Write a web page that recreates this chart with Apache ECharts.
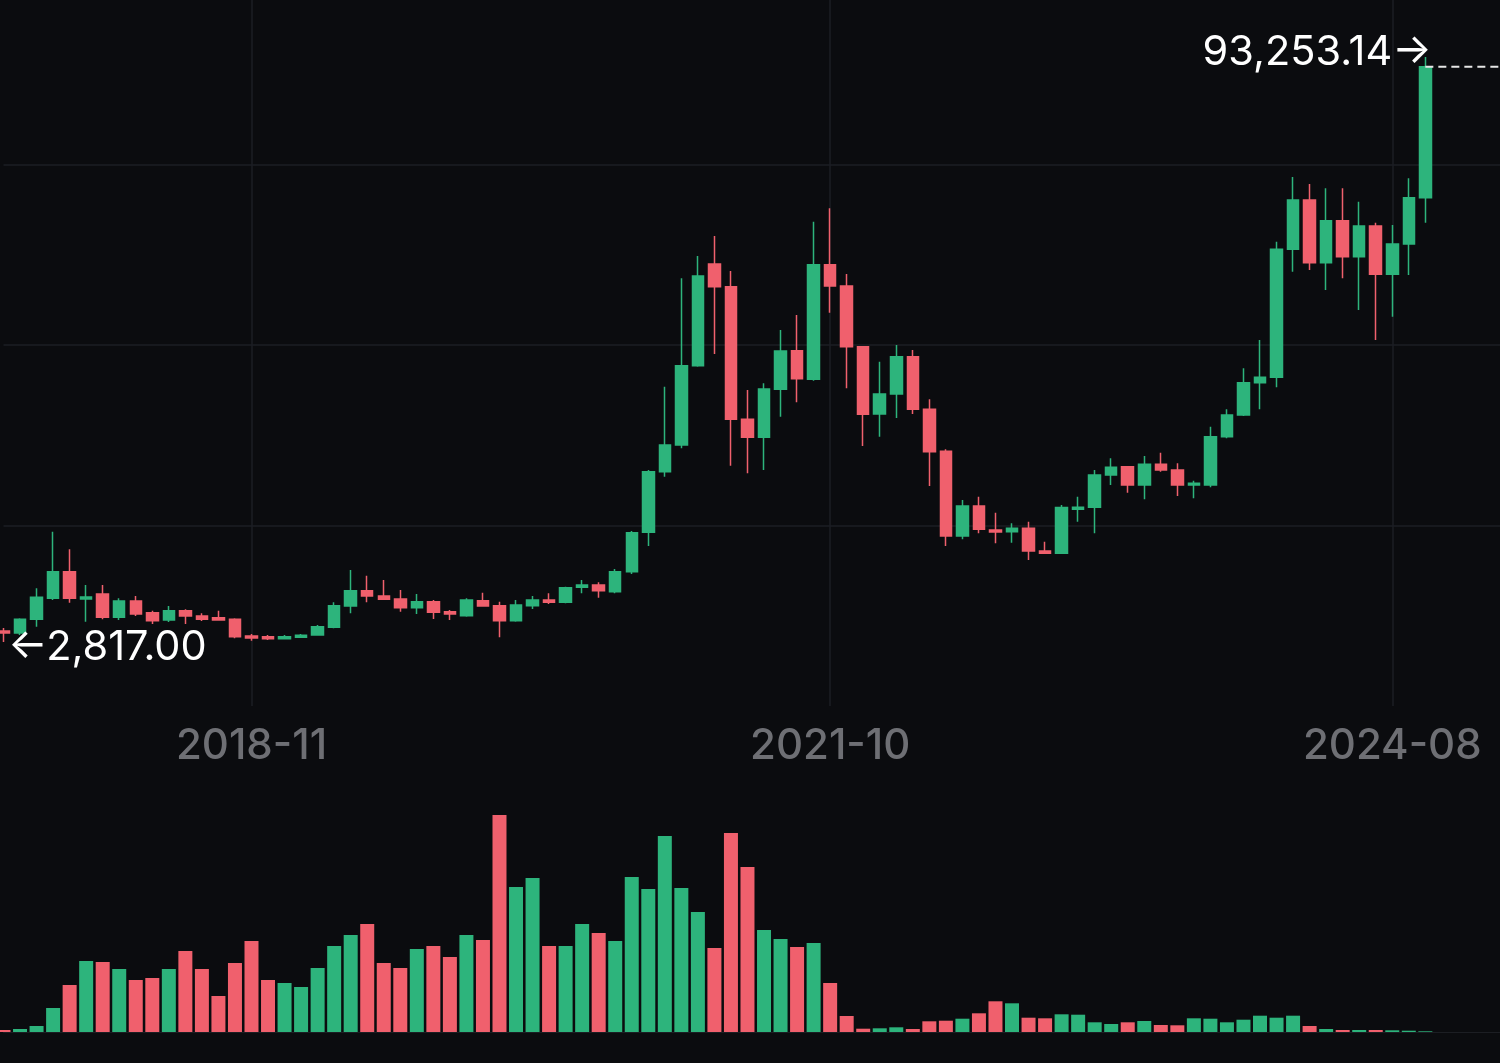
<!DOCTYPE html>
<html><head><meta charset="utf-8">
<script src="https://cdn.jsdelivr.net/npm/echarts@6/dist/echarts.min.js"></script>
<style>html,body{margin:0;padding:0;background:#0b0c0f;}#c{width:1500px;height:1063px;}</style>
</head><body><div id="c"></div>
<script>
const dates = ['2017-08','2017-09','2017-10','2017-11','2017-12',
'2018-01','2018-02','2018-03','2018-04','2018-05','2018-06','2018-07','2018-08','2018-09','2018-10','2018-11','2018-12',
'2019-01','2019-02','2019-03','2019-04','2019-05','2019-06','2019-07','2019-08','2019-09','2019-10','2019-11','2019-12',
'2020-01','2020-02','2020-03','2020-04','2020-05','2020-06','2020-07','2020-08','2020-09','2020-10','2020-11','2020-12',
'2021-01','2021-02','2021-03','2021-04','2021-05','2021-06','2021-07','2021-08','2021-09','2021-10','2021-11','2021-12',
'2022-01','2022-02','2022-03','2022-04','2022-05','2022-06','2022-07','2022-08','2022-09','2022-10','2022-11','2022-12',
'2023-01','2023-02','2023-03','2023-04','2023-05','2023-06','2023-07','2023-08','2023-09','2023-10','2023-11','2023-12',
'2024-01','2024-02','2024-03','2024-04','2024-05','2024-06','2024-07','2024-08','2024-09','2024-10'];
const open = [4518,4209,6327,9573,13685,9465,10238,6636,9155,7347,6218,7656,6837,6574,6327,3745,3637,3327,3544,3899,
5089,8382,10748,9928,9465,8119,9047,7501,6883,9201,8429,6110,8429,9310,8955,11273,11629,10593,13685,19776,
29144,33271,45530,61252,57743,37244,34462,41882,47849,43428,61144,57851,48468,38064,41156,46922,38790,32298,19204,23841,
20131,19869,20394,16885,16529,23331,23640,28634,29917,27088,30288,29407,27088,27088,34555,37909,42902,43737,63525,71146,
61453,67946,62381,67127,59660,64344,71501];
const close = [4209,6327,9727,13685,9573,9774,6636,9155,7146,6110,7656,6837,6327,6218,3637,3436,3327,3637,3853,5182,
8429,10748,9928,9418,8119,9047,7409,7146,9310,8382,6110,8537,9310,8955,11211,11629,10748,13685,19714,29144,
33271,45530,59397,57743,37244,34462,41928,47803,43521,61144,57851,48468,38017,41156,46922,38790,32236,19204,23841,20240,
19822,20394,16885,16529,23610,23640,28634,29824,27088,30288,29407,27088,27350,34555,37909,42902,43737,63525,71146,61453,
67946,62381,67127,59660,64344,71501,91753];
const low = [2817,3899,5182,9310,8892,5955,6327,6218,6837,5600,5909,5600,6064,6110,3389,3018,3126,3235,3436,3791,
4935,7254,8955,9310,7501,7146,6373,6218,6729,8274,3544,5955,7919,8692,8800,10346,9666,10346,13329,17658,
28371,32761,45376,47339,30071,28897,29407,37646,39872,43212,53724,42036,33117,34555,37445,38064,26933,17658,18694,19621,
18075,18168,15494,16421,16421,21415,19621,27088,25897,24877,29144,25387,25032,26732,34307,37755,38790,42191,60062,60325,
57233,59042,54141,49503,53105,59552,67637];
const high = [4981,6481,11119,19869,17148,11629,11629,9573,9928,7656,8382,7872,7254,7656,6481,4054,3899,3899,4054,5445,
8955,13948,13067,12402,10856,10238,9310,7764,9573,10438,9047,9310,9928,10346,11366,12402,12046,14100,19977,29407,
42284,59042,62489,65581,60170,41774,42810,51049,53368,67791,69863,59706,48576,46149,48730,47957,40336,32607,24769,25279,
22806,21167,21415,18323,23996,25279,29407,31216,30025,31571,32081,30442,27752,36100,38790,45129,49503,64700,74702,73619,
72955,72955,70883,67637,67281,74500,93253.14];
const volume = [2,3,6,24,47,71,70,63,52,54,63,81,63,36,69,91,52,49,45,64,
86,97,108,69,64,83,86,75,97,92,217,145,154,86,86,108,99,91,155,143,
196,144,120,84,199,165,102,93,85,89,49,16,3.3,3.7,4.7,3,10.7,11.3,13.3,18.7,
30.7,28.7,14.3,13.7,17.7,17.3,9.7,8,9.7,11,7,6.7,13.7,13.3,9.7,12.3,16.3,14.3,16.3,6,
3,2,2,2,1.7,1.3,0.7];
const tickLabels = ['2018-11','2021-10','2024-08'];

const UP = '#2db47c', DOWN = '#f0606d', GRID = '#1c1e24', BG = '#0b0c0f';
const FONT = 'Inter, "Noto Sans", sans-serif';
const AXIS_END = 91;

const candles = dates.map((d, i) => [open[i], close[i], low[i], high[i]]);
const vols = volume.map((v, i) => ({ value: v, itemStyle: { color: close[i] >= open[i] ? UP : DOWN } }));

let hi = 0, lo = 0;
high.forEach((v, i) => { if (v > high[hi]) hi = i; });
low.forEach((v, i) => { if (v < low[lo]) lo = i; });
const fmt = v => v.toLocaleString('en-US', { minimumFractionDigits: 2, maximumFractionDigits: 2 });
const last = dates.length - 1;

const chart = echarts.init(document.getElementById('c'), null, { renderer: 'canvas' });
chart.setOption({
  backgroundColor: BG,
  animation: false,
  grid: [
    { left: 3.5, width: 1504.5, top: 0, height: 706, containLabel: false, outerBoundsMode: 'none' },
    { left: 3.5, width: 1504.5, top: 800, height: 232, containLabel: false, outerBoundsMode: 'none' }
  ],
  xAxis: [
    {
      type: 'category', gridIndex: 0, data: dates, boundaryGap: false, max: AXIS_END,
      axisLine: { show: false }, axisTick: { show: false },
      axisLabel: {
        interval: (idx) => tickLabels.includes(dates[idx]),
        color: '#6e6f74', fontSize: 42, fontWeight: 500, fontFamily: FONT, margin: 19
      },
      splitLine: { show: true, interval: (idx) => tickLabels.includes(dates[idx]), lineStyle: { color: GRID, width: 1.5 } }
    },
    {
      type: 'category', gridIndex: 1, data: dates, boundaryGap: false, max: AXIS_END,
      axisLine: { show: true, lineStyle: { color: '#1c1e23', width: 1 } },
      axisTick: { show: false }, axisLabel: { show: false }, splitLine: { show: false }
    }
  ],
  yAxis: [
    { type: 'value', gridIndex: 0, min: -7077, max: 102064, show: false },
    {
      type: 'value', gridIndex: 0, min: 0, max: 3.9114, interval: 1, position: 'right',
      axisLine: { show: false }, axisTick: { show: false }, axisLabel: { show: false },
      splitLine: { show: true, showMinLine: false, showMaxLine: false, lineStyle: { color: GRID, width: 1.5 } }
    },
    { type: 'value', gridIndex: 1, min: 0, max: 232, show: false }
  ],
  series: [
    {
      type: 'candlestick', xAxisIndex: 0, yAxisIndex: 0, data: candles, barWidth: 12, clip: false,
      itemStyle: { color: UP, color0: DOWN, borderColor: UP, borderColor0: DOWN, borderWidth: 1.5 },
      markPoint: {
        symbol: 'circle', symbolSize: 1, itemStyle: { color: 'rgba(0,0,0,0)' },
        label: { show: true, color: '#ffffff', fontSize: 41.5, fontFamily: FONT },
        data: [
          { coord: [dates[hi], high[hi]], label: { position: 'left', distance: 0, offset: [7, -4], formatter: () => fmt(high[hi]) + '→' } },
          { coord: [dates[lo], low[lo]], label: { position: 'right', distance: 0, offset: [4, 6], formatter: () => '←' + fmt(low[lo]) } }
        ]
      }
    },
    {
      type: 'line', xAxisIndex: 0, yAxisIndex: 0, symbol: 'none', clip: false, silent: true, z: 3,
      data: [[last, close[last]], [AXIS_END, close[last]]],
      lineStyle: { color: '#e6e6e6', width: 2, type: [8, 5] }
    },
    {
      type: 'bar', xAxisIndex: 1, yAxisIndex: 2, data: vols, barWidth: 14, clip: false
    }
  ]
});
</script>
</body></html>
